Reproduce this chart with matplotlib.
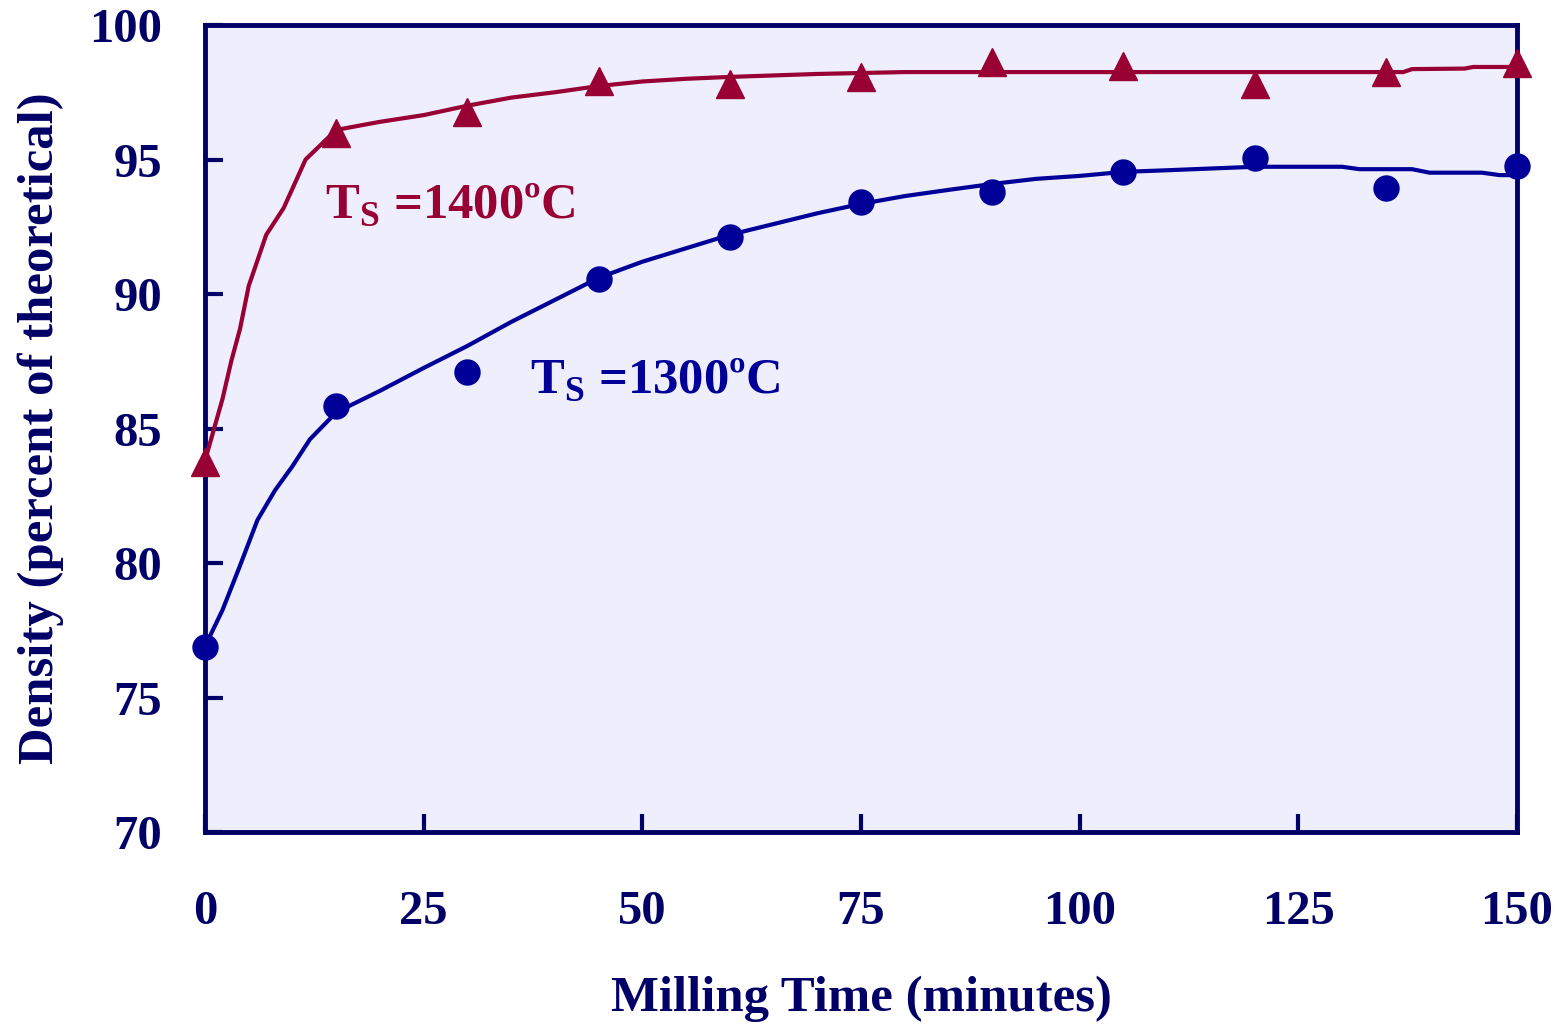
import matplotlib
matplotlib.use("Agg")
import matplotlib.pyplot as plt

# Measured data points
t_points = [0, 15, 30, 45, 60, 75, 90, 105, 120, 135, 150]
d1400 = [83.75, 96.0, 96.77, 97.92, 97.8, 98.07, 98.62, 98.48, 97.8, 98.25, 98.59]
d1300 = [76.88, 85.84, 87.1, 90.56, 92.12, 93.42, 93.79, 94.54, 95.06, 93.94, 94.76]

# Fitted curves
t_fit1400 = [0, 2, 3, 4, 5, 7, 9, 11.5, 15, 20, 25, 30, 35, 40, 45, 50, 55, 60, 70, 80, 137, 138, 144, 145, 150]
fit1400 = [83.8, 86.1, 87.5, 88.7, 90.3, 92.2, 93.2, 95.0, 96.1, 96.4, 96.65, 97.0, 97.3, 97.5, 97.73, 97.9, 98.0, 98.07, 98.18, 98.25, 98.25, 98.36, 98.38, 98.44, 98.44]
t_fit1300 = [0, 2, 4, 6, 8, 10, 12, 15, 20, 25, 30, 35, 40, 45, 50, 55, 60, 65, 70, 75, 80, 85, 90, 95, 100, 105, 110, 120, 130, 132, 138, 140, 146, 148, 150]
fit1300 = [76.9, 78.25, 79.9, 81.6, 82.7, 83.6, 84.6, 85.6, 86.4, 87.25, 88.07, 88.96, 89.78, 90.6, 91.2, 91.7, 92.2, 92.6, 93.0, 93.35, 93.64, 93.87, 94.09, 94.28, 94.39, 94.54, 94.6, 94.73, 94.73, 94.64, 94.64, 94.51, 94.51, 94.42, 94.42]

x_ticks = [0, 25, 50, 75, 100, 125, 150]
y_ticks = [70, 75, 80, 85, 90, 95, 100]

RED = "#990033"
BLUE = "#000099"
NAVY = "#000066"
BG = "#EEEEFC"

plt.rcParams['font.family'] = ['Liberation Serif', 'DejaVu Serif']
plt.rcParams['font.weight'] = 'bold'

fig = plt.figure(figsize=(15.58, 10.26), dpi=100)
ax = fig.add_axes([205/1558, 1-832/1026, (1517-205)/1558, (832-25)/1026])
ax.set_facecolor(BG)

ax.plot(t_fit1400, fit1400, color=RED, lw=3, zorder=3)
ax.plot(t_fit1300, fit1300, color=BLUE, lw=3, zorder=3)
ax.plot(t_points, d1400, ls='none', marker='^', ms=20, color=RED, clip_on=False, zorder=4)
ax.plot(t_points, d1300, ls='none', marker='o', ms=18, color=BLUE, clip_on=False, zorder=4)

ax.set_xlim(0, 150)
ax.set_ylim(70, 100)
ax.set_xticks(x_ticks)
ax.set_yticks(y_ticks)
for s in ax.spines.values():
    s.set_color(NAVY)
    s.set_linewidth(3.5)
ax.tick_params(direction='in', length=13, width=3, color=NAVY, labelcolor=NAVY,
               labelsize=35)
ax.tick_params(axis='y', pad=31)
ax.tick_params(axis='x', pad=42)
for lab in ax.get_xticklabels() + ax.get_yticklabels():
    lab.set_fontweight('bold')

ax.set_xlabel('Milling Time (minutes)', fontsize=36.5, fontweight='bold', color=NAVY, labelpad=30)
ax.set_ylabel('Density (percent of theoretical)', fontsize=36.5, fontweight='bold', color=NAVY, labelpad=18)

ax.text(13.7, 92.83, r'T$_\mathregular{S}$ =1400ºC', fontsize=36.5, fontweight='bold', color=RED,
        va='baseline', ha='left')
ax.text(37.2, 86.32, r'T$_\mathregular{S}$ =1300ºC', fontsize=36.5, fontweight='bold', color=BLUE,
        va='baseline', ha='left')

fig.savefig('out.png', dpi=100)
